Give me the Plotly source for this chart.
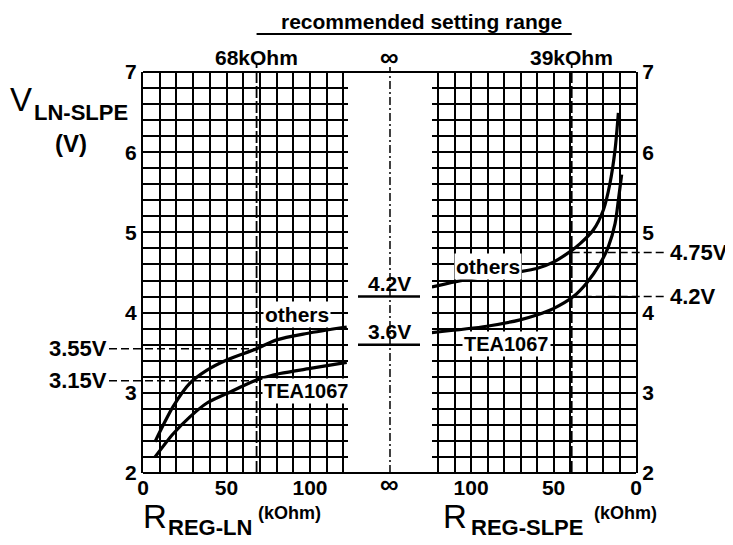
import plotly.graph_objects as go

# ---------------- data ----------------
# Left panel: V(LN-SLPE) versus R(REG-LN) in kOhm
ln_r_others = [7.2, 18.1, 28.1, 38.1, 50.1, 68.1, 80.0, 98.0, 122.0]
ln_v_others = [2.39, 2.83, 3.12, 3.28, 3.41, 3.55, 3.66, 3.74, 3.82]
ln_r_tea = [7.2, 18.1, 28.1, 38.1, 50.1, 68.1, 82.0, 102.0, 122.0]
ln_v_tea = [2.20, 2.49, 2.70, 2.87, 2.99, 3.16, 3.24, 3.31, 3.38]

# Right panel: V(LN-SLPE) versus R(REG-SLPE) in kOhm (axis reversed)
slpe_r_others = [123.8, 98.8, 70.3, 60.2, 50.1, 40.0, 33.9, 25.9, 19.8, 15.8, 12.7, 10.7]
slpe_v_others = [4.32, 4.43, 4.51, 4.55, 4.63, 4.76, 4.86, 5.03, 5.28, 5.61, 6.03, 6.49]
slpe_r_tea = [123.8, 90.5, 70.3, 60.2, 50.1, 38.0, 29.9, 21.8, 16.8, 12.7, 10.7, 8.7]
slpe_v_tea = [3.75, 3.83, 3.91, 3.97, 4.05, 4.20, 4.37, 4.61, 4.82, 5.11, 5.40, 5.72]

# reference values
r_ln_setting = 68      # kOhm
r_slpe_setting = 39    # kOhm
v_ln_refs = [3.55, 3.15]
v_ln_ref_labels = ["3.55V", "3.15V"]
v_slpe_refs = [4.75, 4.2]
v_slpe_ref_labels = ["4.75V", "4.2V"]
v_inf_refs = [4.2, 3.6]
v_inf_ref_labels = ["4.2V", "3.6V"]

# ticks
r_grid = [0, 10, 20, 30, 40, 50, 60, 70, 80, 90, 100, 110, 120]
r_labels = ["0", "50", "100"]
v_labels = ["2", "3", "4", "5", "6", "7"]
v_grid = [round(2 + 0.2 * i, 1) for i in range(26)]

# ---------------- geometry ----------------
# the page body adds an 8px offset; plot area on screen: x 143..636, y 72..473
OFF = 8
W, H = 733, 545
SX0, SX1, SY0, SY1 = 143, 636, 72, 473
PW, PH = SX1 - SX0, SY1 - SY0
ML, MT = SX0 - OFF, SY0 - OFF
MR, MB = W - ML - PW, H - MT - PH
L_DOM = [0.0, 0.416]
R_DOM = [0.586, 1.0]
L_MAX = 122.8
R_MAX = 123.8
MID = (L_DOM[1] + R_DOM[0]) / 2


def px(x):
    return (x - SX0) / PW


def py(y):
    return 1 - (y - SY0) / PH


def lpx(v):
    return L_DOM[0] + v / L_MAX * (L_DOM[1] - L_DOM[0])


def rpx(v):
    return R_DOM[0] + (R_MAX - v) / R_MAX * (R_DOM[1] - R_DOM[0])


FAM = "Liberation Sans, Arial, sans-serif"
BLK = "black"


def fnt(size, bold=True):
    return dict(family=FAM, size=size, color=BLK, weight="bold" if bold else "normal")


def r_ticktext():
    return [str(v) if str(v) in r_labels else "" for v in r_grid]


def v_ticktext():
    out = []
    for v in v_grid:
        s = str(int(round(v))) if abs(v - round(v)) < 1e-9 else ""
        out.append(s if s in v_labels else "")
    return out


fig = go.Figure()
curve = dict(color=BLK, width=3.2, shape="spline", smoothing=0.8)
for xs, ys in [(ln_r_others, ln_v_others), (ln_r_tea, ln_v_tea)]:
    fig.add_trace(go.Scatter(x=xs, y=ys, xaxis="x", yaxis="y", mode="lines",
                             line=curve, hoverinfo="skip", showlegend=False))
for xs, ys in [(slpe_r_others, slpe_v_others), (slpe_r_tea, slpe_v_tea)]:
    fig.add_trace(go.Scatter(x=xs, y=ys, xaxis="x2", yaxis="y2", mode="lines",
                             line=curve, hoverinfo="skip", showlegend=False))

GW = 1.8
xcommon = dict(tickmode="array", tickvals=r_grid, ticktext=r_ticktext(), showgrid=True,
               gridcolor=BLK, gridwidth=GW, zeroline=False, showline=False, ticks="",
               tickfont=fnt(21), fixedrange=True, automargin=False)
ycommon = dict(range=[2, 7], tickmode="array", tickvals=v_grid, ticktext=v_ticktext(),
               showgrid=True, gridcolor=BLK, gridwidth=GW, zeroline=False, showline=True,
               linecolor=BLK, linewidth=2, ticks="", tickfont=fnt(21), fixedrange=True,
               automargin=False)

shapes = []
# full-width top and bottom frame lines
for yy in [0, 1]:
    shapes.append(dict(type="line", xref="paper", yref="paper", x0=0, x1=1, y0=yy, y1=yy,
                       line=dict(color=BLK, width=2)))
# setting lines
shapes.append(dict(type="line", xref="x", yref="paper", x0=r_ln_setting, x1=r_ln_setting,
                   y0=0, y1=py(64), line=dict(color=BLK, width=1.8, dash="12px,3px")))
shapes.append(dict(type="line", xref="x2", yref="paper", x0=r_slpe_setting, x1=r_slpe_setting,
                   y0=0, y1=py(64), line=dict(color=BLK, width=1.8, dash="12px,3px")))
# infinity line
shapes.append(dict(type="line", xref="paper", yref="paper", x0=MID, x1=MID, y0=0, y1=py(67),
                   line=dict(color=BLK, width=1.5, dash="8px,3px,2px,3px")))
# recommended setting range underline
shapes.append(dict(type="line", xref="paper", yref="paper", x0=lpx(r_ln_setting),
                   x1=rpx(r_slpe_setting), y0=py(34), y1=py(34), line=dict(color=BLK, width=2)))
# left reference dashes
for v in v_ln_refs:
    shapes.append(dict(type="line", xref="paper", yref="y", x0=px(109), x1=lpx(r_ln_setting),
                       y0=v, y1=v, line=dict(color=BLK, width=1.6, dash="8px,4px")))
# right reference dashes
for v in v_slpe_refs:
    shapes.append(dict(type="line", xref="paper", yref="y2", x0=rpx(r_slpe_setting), x1=px(667),
                       y0=v, y1=v, line=dict(color=BLK, width=1.6, dash="8px,4px")))
# middle (infinite resistance) levels
for v in v_inf_refs:
    shapes.append(dict(type="line", xref="paper", yref="y", x0=px(358), x1=px(420),
                       y0=v, y1=v, line=dict(color=BLK, width=2.6)))

ann = []


def A(text, x, y, xref="paper", yref="paper", size=20, bold=True, xanchor="center",
      yanchor="middle", bg=None, pad=1):
    d = dict(text=text, x=x, y=y, xref=xref, yref=yref, showarrow=False, font=fnt(size, bold),
             xanchor=xanchor, yanchor=yanchor, borderpad=pad)
    if bg:
        d["bgcolor"] = bg
    ann.append(d)


A("recommended setting range", px(421), py(OFF + 1), size=21, yanchor="top", pad=0)
A("68kOhm", lpx(r_ln_setting), py(57), size=21)
A("39kOhm", rpx(r_slpe_setting), py(57), size=21)
A("∞", MID, py(57), size=26)
A("∞", MID, py(484), size=26)

for v, t in zip(v_ln_refs, v_ln_ref_labels):
    A(t, px(109), v, yref="y", xanchor="right", size=22)
for v, t in zip(v_slpe_refs, v_slpe_ref_labels):
    A(t, px(668), v, yref="y2", xanchor="left", size=22)
for v, t in zip(v_inf_refs, v_inf_ref_labels):
    A(t, MID, v, yref="y", yanchor="bottom", size=21)

A("others", 92.2, 3.98, xref="x", yref="y", bg="white", size=21)
A("TEA1067", 97.6, 3.02, xref="x", yref="y", bg="white", size=20)
A("others", 89.7, 4.57, xref="x2", yref="y2", bg="white", size=21)
A("TEA1067", 78.8, 3.61, xref="x2", yref="y2", bg="white", size=20)

# axis titles
A("V", px(8), py(99), size=33, bold=False, xanchor="left")
A("LN-SLPE", px(32), py(113), size=22, xanchor="left")
A("(V)", px(71), py(143), size=24)
A("R", px(141), py(516), size=33, bold=False, xanchor="left")
A("REG-LN", px(166), py(527), size=22, xanchor="left")
A("(kOhm)", px(256), py(513), size=18, xanchor="left")
A("R", px(441), py(516), size=33, bold=False, xanchor="left")
A("REG-SLPE", px(469), py(527), size=22, xanchor="left")
A("(kOhm)", px(592), py(513), size=18, xanchor="left")

fig.update_layout(
    width=W, height=H, margin=dict(l=ML, r=MR, t=MT, b=MB, pad=0, autoexpand=False),
    paper_bgcolor="white", plot_bgcolor="white", showlegend=False,
    xaxis=dict(domain=L_DOM, range=[0, L_MAX], anchor="y", **xcommon),
    yaxis=dict(domain=[0, 1], anchor="x", side="left", **ycommon),
    xaxis2=dict(domain=R_DOM, range=[R_MAX, 0], anchor="y2", **xcommon),
    yaxis2=dict(domain=[0, 1], anchor="x2", side="right", **ycommon),
    shapes=shapes, annotations=ann,
)

fig.write_html("out.html")
